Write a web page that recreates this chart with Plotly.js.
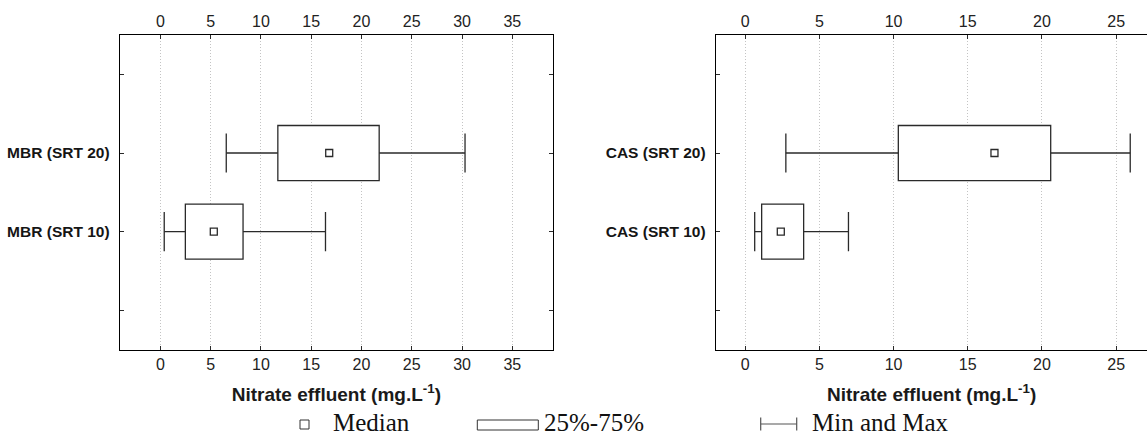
<!DOCTYPE html>
<html><head><meta charset="utf-8">
<script src="https://cdn.plot.ly/plotly-3.0.1.min.js"></script>
<style>html,body{margin:0;padding:0;background:#fff;overflow:hidden}#chart{width:1147px;height:436px}</style>
</head><body><div id="chart"></div>
<script>
// ---- data ----
const mbrCategories = ['MBR (SRT 20)', 'MBR (SRT 10)'];
const mbrMin    = [6.55, 0.38];
const mbrQ1     = [11.68, 2.48];
const mbrMedian = [16.79, 5.31];
const mbrQ3     = [21.76, 8.22];
const mbrMax    = [30.3, 16.42];

const casCategories = ['CAS (SRT 20)', 'CAS (SRT 10)'];
const casMin    = [2.74, 0.64];
const casQ1     = [10.32, 1.11];
const casMedian = [16.8, 2.4];
const casQ3     = [20.59, 3.94];
const casMax    = [25.95, 6.96];

const xTitle = 'Nitrate effluent (mg.L<sup>-1</sup>)';
const legendLabels = ['Median', '25%-75%', 'Min and Max'];

// ---- helpers ----
const W = 1147, H = 436;
const px = v => v / W;
const py = v => 1 - v / H;
const INK = '#2a2a2a';
const SANS = 'Liberation Sans, Arial, sans-serif';
const SERIF = 'Liberation Serif, Times New Roman, serif';

function panelTraces(cats, mn, q1, med, q3, mx, xa, ya, xTop) {
  const pos = cats.map((_, i) => i + 1);
  const common = {xaxis: xa, yaxis: ya, hoverinfo: 'skip', showlegend: false};
  const box = Object.assign({}, common, {
    type: 'bar', orientation: 'h', y: pos, base: q1,
    x: q3.map((v, i) => v - q1[i]), width: 0.7,
    marker: {color: '#ffffff', line: {color: INK, width: 1.3}}
  });
  const wx = [], wy = [];
  pos.forEach((p, i) => { wx.push(mn[i], q1[i], null, q3[i], mx[i], null); wy.push(p, p, null, p, p, null); });
  const whisk = Object.assign({}, common, {
    type: 'scatter', mode: 'lines', x: wx, y: wy, line: {color: INK, width: 1.3}
  });
  const caps = Object.assign({}, common, {
    type: 'scatter', mode: 'markers', x: mn.concat(mx), y: pos.concat(pos),
    marker: {symbol: 'line-ns', size: 28, color: INK, line: {color: INK, width: 1.3}}
  });
  const meds = Object.assign({}, common, {
    type: 'scatter', mode: 'markers', x: med, y: pos,
    marker: {symbol: 'square', size: 7, color: '#ffffff', line: {color: INK, width: 1.3}}
  });
  // invisible companion so the top (mirrored) axis gets drawn
  const topAnchor = {type: 'scatter', mode: 'markers', xaxis: xTop, yaxis: ya, x: [med[0]], y: [pos[0]],
    marker: {opacity: 0, size: 1}, hoverinfo: 'skip', showlegend: false};
  return [box, whisk, caps, meds, topAnchor];
}

const traces = []
  .concat(panelTraces(mbrCategories, mbrMin, mbrQ1, mbrMedian, mbrQ3, mbrMax, 'x', 'y', 'x3'))
  .concat(panelTraces(casCategories, casMin, casQ1, casMedian, casQ3, casMax, 'x2', 'y2', 'x4'));

const yDomain = [py(349.7), py(35)];
function xAxis(domain, range, anchor, withTitle) {
  const a = {
    range: range, anchor: anchor, tick0: 0, dtick: 5,
    showline: true, linecolor: '#000', linewidth: 1.5, mirror: false,
    ticks: 'inside', ticklen: 4, tickcolor: INK,
    showgrid: true, gridcolor: '#c4c4c4', griddash: '1px,2px', gridwidth: 1,
    zeroline: false, fixedrange: true,
    tickfont: {family: SANS, size: 16, color: '#222'}
  };
  if (domain) a.domain = domain;
  if (withTitle) a.title = {text: xTitle, font: {family: SANS, size: 19, weight: 'bold', color: '#1a1a1a'}, standoff: 15};
  return a;
}
function topAxis(over, range, anchor) {
  const a = xAxis(null, range, anchor, false);
  a.overlaying = over; a.side = 'top'; a.showgrid = false;
  return a;
}
function yAxis(cats, anchor, mirror) {
  return {
    domain: yDomain, anchor: anchor,
    range: [cats.length + 1.5, -0.5],
    tickvals: cats.map((_, i) => i + 1),
    ticktext: cats,
    minor: {tick0: 0, dtick: 1, ticks: 'inside', ticklen: 4, tickcolor: INK, showgrid: false},
    showline: true, linecolor: '#000', linewidth: 1.5, mirror: mirror,
    ticks: 'inside', ticklen: 4, tickcolor: INK, ticklabelstandoff: 6,
    showgrid: false, zeroline: false, fixedrange: true,
    tickfont: {family: SANS, size: 15.5, weight: 'bold', color: '#151515'}
  };
}

const leftRange = [-4, 39];
const rightRange = [-1.954, 27.08];

const legendFont = {family: SERIF, size: 25, color: '#111'};
const layout = {
  width: W, height: H,
  margin: {l: 0, r: 0, t: 0, b: 0},
  paper_bgcolor: '#fff', plot_bgcolor: '#fff',
  barmode: 'overlay', showlegend: false,
  xaxis: xAxis([px(120.2), px(552.5)], leftRange, 'y', true),
  xaxis3: topAxis('x', leftRange, 'y'),
  yaxis: yAxis(mbrCategories, 'x', 'ticks'),
  xaxis2: xAxis([px(716.2), 1], rightRange, 'y2', true),
  xaxis4: topAxis('x2', rightRange, 'y2'),
  yaxis2: yAxis(casCategories, 'x2', false),
  shapes: [
    {type: 'rect', xref: 'paper', yref: 'paper', x0: px(300), x1: px(309), y0: py(429), y1: py(420), line: {color: '#333', width: 1}},
    {type: 'rect', xref: 'paper', yref: 'paper', x0: px(477.3), x1: px(538.3), y0: py(430), y1: py(420), line: {color: '#333', width: 1}},
    {type: 'line', xref: 'paper', yref: 'paper', x0: px(760.7), x1: px(796.7), y0: py(424), y1: py(424), line: {color: '#555', width: 1.2}},
    {type: 'line', xref: 'paper', yref: 'paper', x0: px(760.7), x1: px(760.7), y0: py(430.5), y1: py(417.5), line: {color: '#555', width: 1.2}},
    {type: 'line', xref: 'paper', yref: 'paper', x0: px(796.7), x1: px(796.7), y0: py(430.5), y1: py(417.5), line: {color: '#555', width: 1.2}}
  ],
  annotations: [
    {text: legendLabels[0], x: px(331), y: py(422), xref: 'paper', yref: 'paper', xanchor: 'left', yanchor: 'middle', showarrow: false, font: legendFont},
    {text: legendLabels[1], x: px(542), y: py(422), xref: 'paper', yref: 'paper', xanchor: 'left', yanchor: 'middle', showarrow: false, font: legendFont},
    {text: legendLabels[2], x: px(810), y: py(422), xref: 'paper', yref: 'paper', xanchor: 'left', yanchor: 'middle', showarrow: false, font: legendFont}
  ]
};

Plotly.newPlot('chart', traces, layout, {staticPlot: true, displayModeBar: false});
</script>
</body></html>
